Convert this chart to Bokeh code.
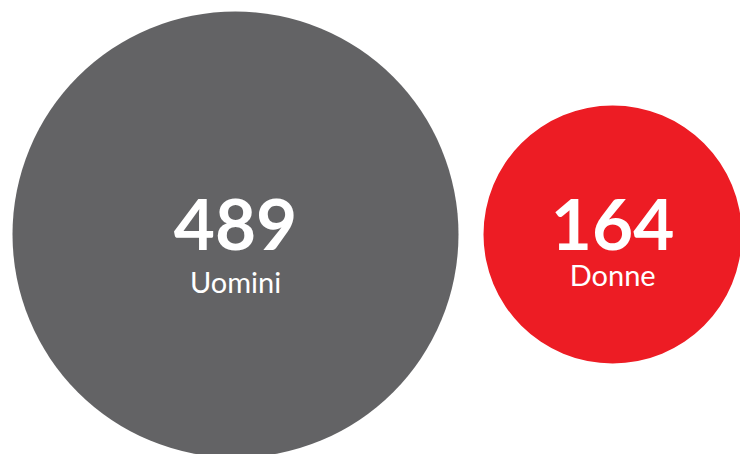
from bokeh.plotting import figure
from bokeh.models import Range1d, ColumnDataSource
from bokeh.core.properties import value
from bokeh.embed import file_html
from bokeh.resources import INLINE
import math

labels = ["Uomini", "Donne"]
values = [489, 164]
colors = ["#636365", "#ED1C24"]

W, H = 740, 454
scale = 223 / math.sqrt(max(values))
radii = [scale * math.sqrt(v) for v in values]
gap = 25
cx0 = 12 + radii[0]
cxs = [cx0, cx0 + radii[0] + gap + radii[1]]
cys = [234, 234]

src = ColumnDataSource(dict(
    x=cxs, y=cys, r=radii, color=colors,
    num=[str(v) for v in values], lab=labels,
    ny=[c - 10 for c in cys], ly=[cys[0] + 47, cys[1] + 40],
))

p = figure(width=W, height=H, x_range=Range1d(0, W), y_range=Range1d(H, 0),
           output_backend="svg", toolbar_location=None, min_border=0)
p.axis.visible = False
p.grid.visible = False
p.outline_line_color = None
p.background_fill_color = "white"
p.border_fill_color = "white"

p.circle(x="x", y="y", radius="r", fill_color="color", line_color=None, source=src)
p.text(x="x", y="ny", text="num", text_align="center", text_baseline="alphabetic",
       text_font=value("Lato"), text_font_style="bold", text_font_size="71px",
       text_color="white", source=src)
p.text(x="x", y="ly", text="lab", text_align="center", text_baseline="alphabetic",
       text_font=value("Lato"), text_font_size="29px", text_color="white", source=src)

open("out.html", "w").write(file_html(p, INLINE))
